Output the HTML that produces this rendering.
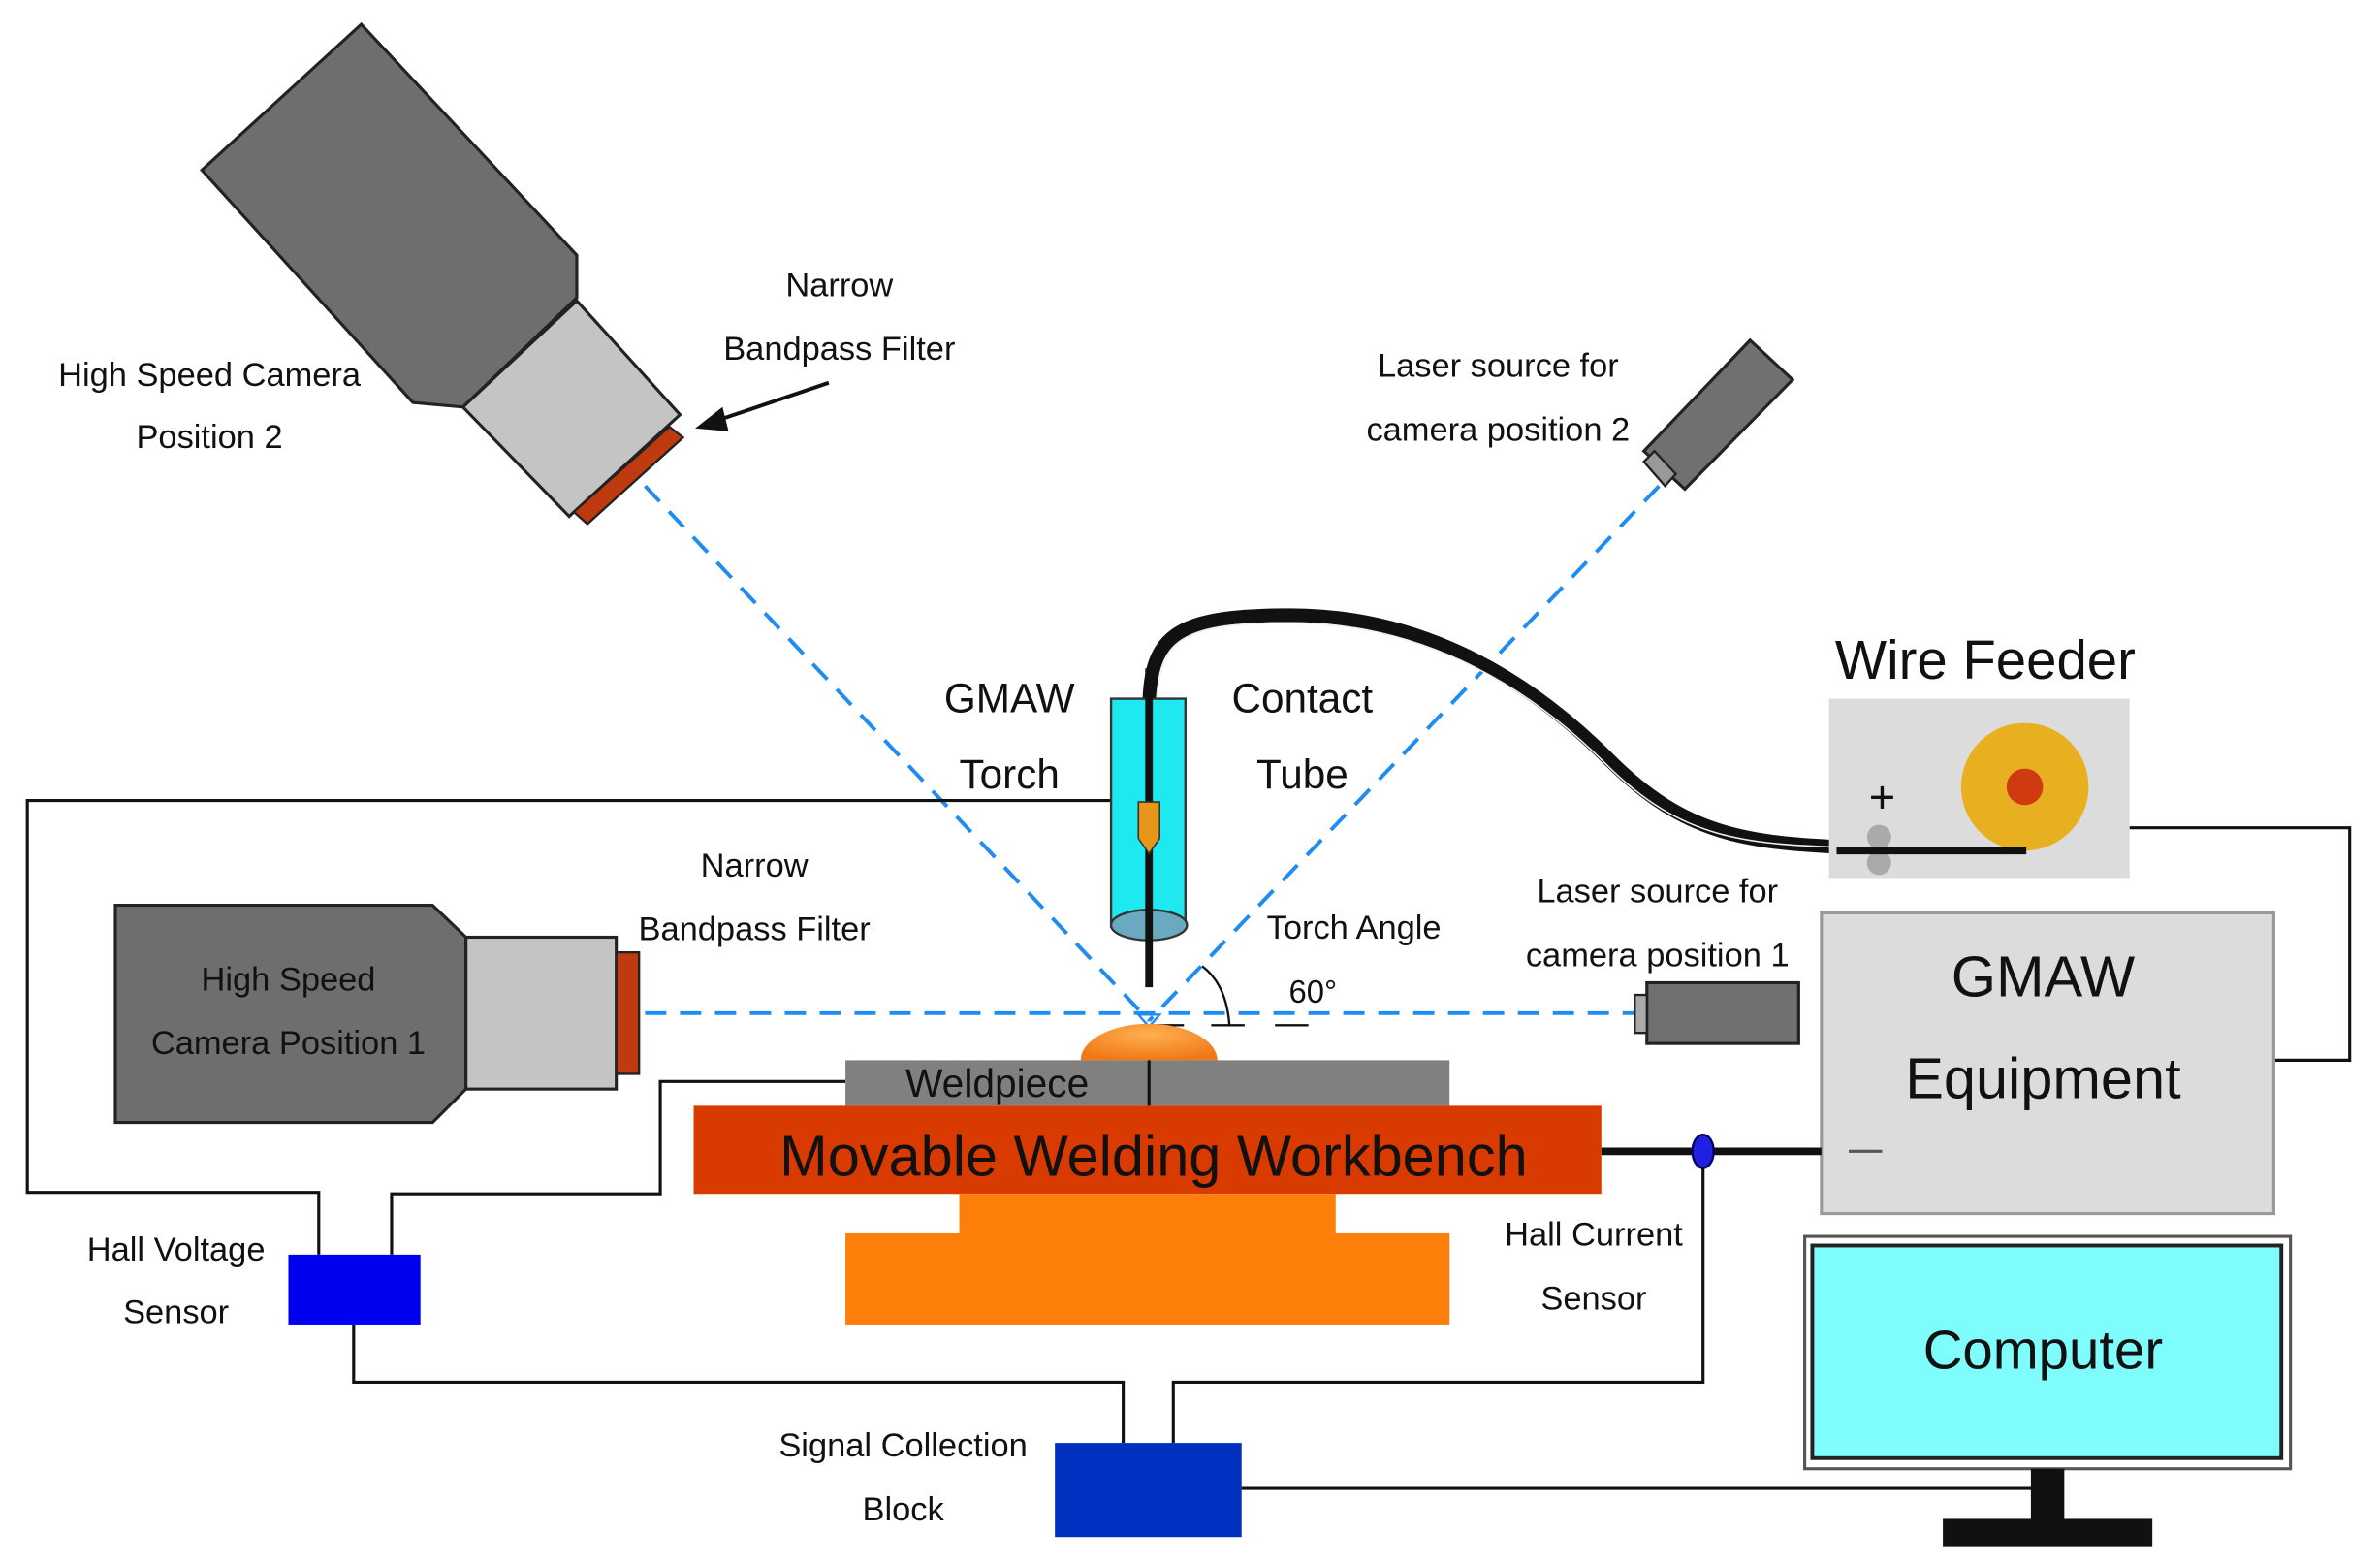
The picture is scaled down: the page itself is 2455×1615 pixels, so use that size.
<!DOCTYPE html>
<html><head><meta charset="utf-8"><style>html,body{margin:0;padding:0;background:#fff}svg{display:block}text{font-family:"Liberation Sans",sans-serif;fill:#111;text-anchor:middle}</style></head><body>
<svg width="2455" height="1615" viewBox="0 0 1568 1031" preserveAspectRatio="none" xmlns="http://www.w3.org/2000/svg">
<defs><radialGradient id="bead" cx="0.5" cy="0.3" r="0.7"><stop offset="0" stop-color="#ffb050"/><stop offset="1" stop-color="#f07818"/></radialGradient></defs>
<!-- Camera 2 -->
<polygon points="133,112 238,16 380,168 380,196 305,268 272,265" fill="#6e6e6e" stroke="#222" stroke-width="2"/>
<polygon points="305,268 380,198 448,273 375,340" fill="#c4c4c4" stroke="#222" stroke-width="2"/>
<polygon points="378,337 441,281 450,288 387,345" fill="#c03a10" stroke="#222" stroke-width="1.5"/>
<text x="138" y="254" font-size="22">High Speed Camera</text>
<text x="138" y="295" font-size="22">Position 2</text>
<text x="553" y="195" font-size="22">Narrow</text>
<text x="553" y="237" font-size="22">Bandpass Filter</text>
<line x1="546" y1="252" x2="472" y2="277" stroke="#111" stroke-width="2.5"/>
<polygon points="458,282 476,268 480,284" fill="#111"/>
<!-- Laser 2 -->
<polygon points="1083,297 1153,224 1181,250 1110,322" fill="#707070" stroke="#222" stroke-width="2"/>
<polygon points="1083,304 1090,297 1104,312 1097,320" fill="#999" stroke="#222" stroke-width="1.5"/>
<text x="987" y="248" font-size="22">Laser source for</text>
<text x="987" y="290" font-size="22">camera position 2</text>
<!-- dashed -->
<g stroke="#1e8cf0" stroke-width="2.5" stroke-dasharray="14,9" fill="none">
<line x1="425" y1="320" x2="757" y2="672"/>
<line x1="1093" y1="320" x2="757" y2="672"/>
<line x1="425" y1="667" x2="1077" y2="667"/>
</g>
<!-- wires -->
<g stroke="#111" stroke-width="2" fill="none">
<polyline points="757,527 18,527 18,785 210,785 210,826"/>
<polyline points="557,712 435,712 435,786 258,786 258,826"/>
<polyline points="233,872 233,910 740,910 740,950"/>
<polyline points="773,950 773,910 1122,910 1122,760"/>
<line x1="818" y1="980" x2="1340" y2="980"/>
<polyline points="1403,545 1548,545 1548,698 1498,698"/>
</g>
<!-- cable -->
<path d="M757,470 C757,420 770,405 850,405 C930,405 1000,440 1060,500 C1110,550 1150,555 1220,558 L1335,560" fill="none" stroke="#111" stroke-width="9"/>
<path d="M762,460 C765,420 780,410 850,410 C930,410 1000,445 1058,503 C1108,553 1150,556 1220,558" fill="none" stroke="#eee" stroke-width="1"/>
<!-- torch -->
<rect x="732" y="460" width="49" height="150" fill="#1ee8f0" stroke="#333" stroke-width="1.5"/>
<ellipse cx="757" cy="609" rx="25" ry="10" fill="#6aaac0" stroke="#333" stroke-width="1.5"/>
<line x1="757" y1="440" x2="757" y2="650" stroke="#111" stroke-width="5"/>
<path d="M750,528 L764,528 L764,552 L757,562 L750,552 Z" fill="#e8961a" stroke="#333" stroke-width="1"/>
<text x="665" y="469" font-size="27">GMAW</text>
<text x="665" y="519" font-size="27">Torch</text>
<text x="858" y="469" font-size="27">Contact</text>
<text x="858" y="519" font-size="27">Tube</text>
<text x="892" y="618" font-size="22">Torch Angle</text>
<text x="865" y="660" font-size="21">60°</text>
<path d="M792,636 Q808,648 810,675" fill="none" stroke="#111" stroke-width="1.5"/>
<g stroke="#111" stroke-width="1.5"><line x1="757" y1="675" x2="780" y2="675"/><line x1="798" y1="675" x2="820" y2="675"/><line x1="840" y1="675" x2="862" y2="675"/></g>
<polygon points="750,668 764,668 757,676" fill="none" stroke="#1e8cf0" stroke-width="1.5"/>
<!-- wire feeder -->
<text x="1308" y="447" font-size="36">Wire Feeder</text>
<rect x="1205" y="460" width="198" height="118" fill="#dcdcdc"/>
<circle cx="1334" cy="518" r="42" fill="#e8b020"/>
<circle cx="1334" cy="518" r="12" fill="#d03a10"/>
<text x="1240" y="535" font-size="30">+</text>
<circle cx="1238" cy="551" r="8" fill="#aaa"/><circle cx="1238" cy="568" r="8" fill="#aaa"/>
<line x1="1210" y1="560" x2="1335" y2="560" stroke="#111" stroke-width="5"/>
<!-- GMAW equipment -->
<rect x="1200" y="601" width="298" height="198" fill="#dcdcdc" stroke="#999" stroke-width="2"/>
<text x="1346" y="656" font-size="38">GMAW</text>
<text x="1346" y="723" font-size="38">Equipment</text>
<line x1="1218" y1="758" x2="1240" y2="758" stroke="#555" stroke-width="2"/>
<!-- computer -->
<rect x="1189" y="814" width="320" height="153" fill="#fff" stroke="#555" stroke-width="2"/>
<rect x="1194" y="820" width="309" height="140" fill="#7ffcfc" stroke="#222" stroke-width="2.5"/>
<text x="1346" y="901" font-size="36">Computer</text>
<rect x="1338" y="967" width="22" height="35" fill="#111"/>
<rect x="1280" y="1000" width="138" height="18" fill="#111"/>
<!-- camera 1 -->
<polygon points="76,596 285,596 307,617 307,717 285,739 76,739" fill="#6e6e6e" stroke="#222" stroke-width="2"/>
<rect x="307" y="617" width="99" height="100" fill="#c4c4c4" stroke="#222" stroke-width="2"/>
<rect x="406" y="627" width="15" height="80" fill="#c03a10" stroke="#222" stroke-width="1.5"/>
<text x="190" y="652" font-size="22">High Speed</text>
<text x="190" y="694" font-size="22">Camera Position 1</text>
<text x="497" y="577" font-size="22">Narrow</text>
<text x="497" y="619" font-size="22">Bandpass Filter</text>
<!-- laser 1 -->
<rect x="1085" y="647" width="100" height="40" fill="#707070" stroke="#222" stroke-width="2"/>
<rect x="1077" y="655" width="8" height="25" fill="#aaa" stroke="#222" stroke-width="1.5"/>
<text x="1092" y="594" font-size="22">Laser source for</text>
<text x="1092" y="636" font-size="22">camera position 1</text>
<!-- workpiece -->
<path d="M712,698 A45,24 0 0 1 802,698 Z" fill="url(#bead)"/>
<rect x="557" y="698" width="398" height="30" fill="#808080"/>
<line x1="757" y1="698" x2="757" y2="728" stroke="#111" stroke-width="2"/>
<text x="657" y="722" font-size="26">Weldpiece</text>
<rect x="457" y="728" width="598" height="58" fill="#d83a00"/>
<text x="760" y="774" font-size="38">Movable Welding Workbench</text>
<rect x="632" y="786" width="248" height="26" fill="#fd7f0a"/>
<rect x="557" y="812" width="398" height="60" fill="#fd7f0a"/>
<!-- sensors -->
<line x1="1055" y1="758" x2="1200" y2="758" stroke="#111" stroke-width="5"/>
<ellipse cx="1122" cy="758" rx="7" ry="11" fill="#2020e0" stroke="#000060" stroke-width="1.5"/>
<text x="1050" y="820" font-size="22">Hall Current</text>
<text x="1050" y="862" font-size="22">Sensor</text>
<rect x="190" y="826" width="87" height="46" fill="#0000f0"/>
<text x="116" y="830" font-size="22">Hall Voltage</text>
<text x="116" y="871" font-size="22">Sensor</text>
<rect x="695" y="950" width="123" height="62" fill="#0030c0"/>
<text x="595" y="959" font-size="22">Signal Collection</text>
<text x="595" y="1001" font-size="22">Block</text>
</svg>
</body></html>
